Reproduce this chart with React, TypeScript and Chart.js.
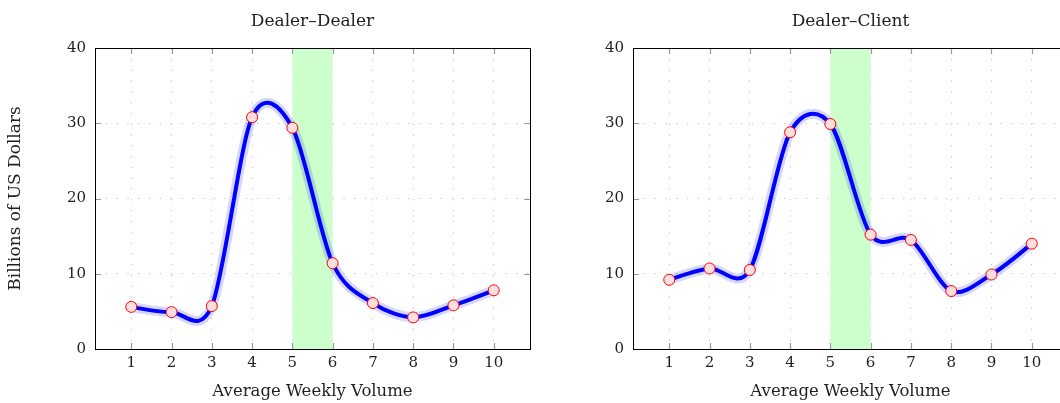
import React, { useEffect, useRef } from 'react';
import { Chart, registerables } from 'chart.js';

Chart.register(...registerables);

// ---- data ----
const volumes: number[] = [1, 2, 3, 4, 5, 6, 7, 8, 9, 10];
const dealerDealer: number[] = [5.6, 4.9, 5.7, 30.8, 29.4, 11.4, 6.1, 4.2, 5.8, 7.8];
const dealerClient: number[] = [9.2, 10.7, 10.5, 28.8, 29.9, 15.2, 14.5, 7.7, 9.9, 14.0];
const xTickValues: number[] = [1, 2, 3, 4, 5, 6, 7, 8, 9, 10];
const yTickValues: number[] = [0, 10, 20, 30, 40];
const highlightBand: number[] = [5, 6];
const xRange: number[] = [0.1, 10.9];
const yRange: number[] = [0, 40];
const chartTitles: string[] = ['Dealer–Dealer', 'Dealer–Client'];
const xAxisTitle = 'Average Weekly Volume';
const yAxisTitle = 'Billions of US Dollars';

const FONT = '"DejaVu Serif", serif';
const TEXT = '#1f1f1f';
// smooth-curve support factor (uniform, like a TikZ "smooth" plot with tension 0.55)
const SMOOTH = 0.55 * 0.2775;

const smoothPlugin = {
  id: 'uniformSmooth',
  afterDatasetsUpdate(chart: any) {
    chart.data.datasets.forEach((_ds: any, i: number) => {
      const meta = chart.getDatasetMeta(i);
      const pts = meta.data as any[];
      const n = pts.length;
      for (let k = 0; k < n; k++) {
        const p = pts[k];
        if (k === 0 || k === n - 1) {
          p.cp1x = p.x; p.cp1y = p.y; p.cp2x = p.x; p.cp2y = p.y;
        } else {
          const prev = pts[k - 1];
          const next = pts[k + 1];
          const dx = (next.x - prev.x) * SMOOTH;
          const dy = (next.y - prev.y) * SMOOTH;
          p.cp1x = p.x - dx; p.cp1y = p.y - dy;
          p.cp2x = p.x + dx; p.cp2y = p.y + dy;
        }
      }
      if (meta.dataset) {
        meta.dataset._pointsUpdated = true;
        meta.dataset._path = undefined;
      }
    });
  },
};

const framePlugin = {
  id: 'frameAndBand',
  beforeDatasetsDraw(chart: any) {
    const { ctx, chartArea, scales } = chart;
    const x0 = scales.x.getPixelForValue(highlightBand[0]);
    const x1 = scales.x.getPixelForValue(highlightBand[1]);
    ctx.save();
    ctx.fillStyle = '#ccffcc';
    ctx.fillRect(x0, chartArea.top, x1 - x0, chartArea.bottom - chartArea.top);
    ctx.restore();
  },
  afterDraw(chart: any) {
    const { ctx, chartArea, scales } = chart;
    const { left, right, top, bottom } = chartArea;
    ctx.save();
    ctx.strokeStyle = '#9a9a9a';
    ctx.lineWidth = 1.2;
    const len = 6;
    ctx.beginPath();
    xTickValues.forEach((v) => {
      const px = Math.round(scales.x.getPixelForValue(v)) + 0.5;
      ctx.moveTo(px, bottom);
      ctx.lineTo(px, bottom - len);
      ctx.moveTo(px, top);
      ctx.lineTo(px, top + len);
    });
    yTickValues.forEach((v) => {
      const py = Math.round(scales.y.getPixelForValue(v)) + 0.5;
      ctx.moveTo(left, py);
      ctx.lineTo(left + len, py);
      ctx.moveTo(right, py);
      ctx.lineTo(right - len, py);
    });
    ctx.stroke();
    ctx.strokeStyle = '#000';
    ctx.lineWidth = 1;
    ctx.strokeRect(Math.round(left) + 0.5, Math.round(top) + 0.5, Math.round(right - left), Math.round(bottom - top));
    ctx.restore();
  },
};

function makeConfig(values: number[], title: string, showYTitle: boolean): any {
  const pts = volumes.map((x, i) => ({ x, y: values[i] }));
  const tension = 0.4;
  return {
    type: 'line',
    data: {
      datasets: [
        {
          data: pts,
          borderColor: '#0000ff',
          borderWidth: 4,
          tension,
          pointRadius: 5.5,
          pointBackgroundColor: '#ffdede',
          pointBorderColor: '#ff0000',
          pointBorderWidth: 1,
        },
        {
          data: pts,
          borderColor: 'rgba(0,0,255,0.16)',
          borderWidth: 10,
          tension,
          pointRadius: 0,
        },
      ],
    },
    options: {
      responsive: false,
      animation: false,
      events: [],
      layout: { padding: { left: 0, right: 10, top: 0, bottom: 0 } },
      plugins: {
        legend: { display: false },
        tooltip: { enabled: false },
        title: {
          display: true,
          text: title,
          fullSize: false,
          color: TEXT,
          font: { family: FONT, size: 17, weight: 'normal' },
          padding: { top: 11, bottom: 16.6 },
        },
      },
      scales: {
        x: {
          type: 'linear',
          min: xRange[0],
          max: xRange[1],
          afterBuildTicks: (s: any) => {
            s.ticks = xTickValues.map((v) => ({ value: v }));
          },
          afterFit: (s: any) => {
            s.height = 54;
          },
          grid: { color: '#c4c4c4', lineWidth: 1, drawTicks: false },
          border: { display: false, dash: [1.3, 9.5] },
          ticks: {
            color: TEXT,
            font: { family: FONT, size: 15 },
            padding: 5,
            maxRotation: 0,
            autoSkip: false,
          },
          title: {
            display: true,
            text: xAxisTitle,
            color: TEXT,
            font: { family: FONT, size: 16.5 },
            padding: { top: 0, bottom: 1 },
          },
        },
        y: {
          type: 'linear',
          min: yRange[0],
          max: yRange[1],
          afterBuildTicks: (s: any) => {
            s.ticks = yTickValues.map((v) => ({ value: v }));
          },
          afterFit: (s: any) => {
            s.width = 95;
          },
          grid: { color: '#c4c4c4', lineWidth: 1, drawTicks: false },
          border: { display: false, dash: [1.3, 9.5] },
          ticks: {
            color: TEXT,
            font: { family: FONT, size: 15 },
            padding: 9,
          },
          title: {
            display: showYTitle,
            text: yAxisTitle,
            color: TEXT,
            font: { family: FONT, size: 17 },
            padding: { top: 5, bottom: 0 },
          },
        },
      },
    },
    plugins: [smoothPlugin, framePlugin],
  };
}

export default function App() {
  const leftRef = useRef<HTMLCanvasElement | null>(null);
  const rightRef = useRef<HTMLCanvasElement | null>(null);

  useEffect(() => {
    const c1 = new Chart(leftRef.current as HTMLCanvasElement, makeConfig(dealerDealer, chartTitles[0], true));
    const c2 = new Chart(rightRef.current as HTMLCanvasElement, makeConfig(dealerClient, chartTitles[1], false));
    return () => {
      c1.destroy();
      c2.destroy();
    };
  }, []);

  return (
    <div
      style={{
        position: 'absolute',
        left: 0,
        top: 0,
        width: 1060,
        height: 403,
        overflow: 'hidden',
        background: '#ffffff',
      }}
    >
      <canvas ref={leftRef} width={540} height={403} style={{ position: 'absolute', left: 0, top: 0 }} />
      <canvas ref={rightRef} width={540} height={403} style={{ position: 'absolute', left: 538, top: 0 }} />
    </div>
  );
}
